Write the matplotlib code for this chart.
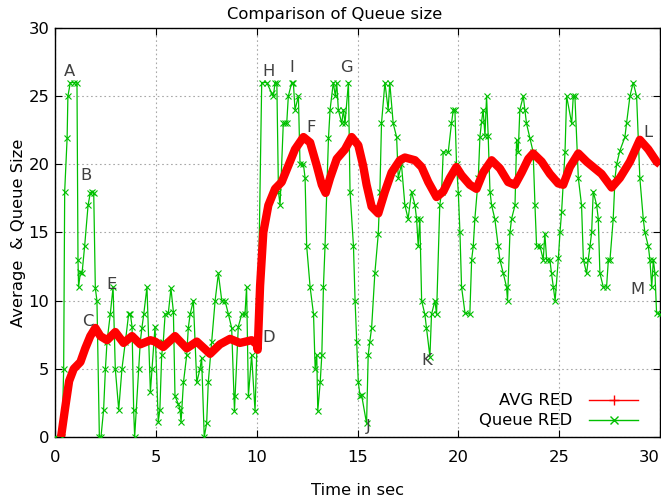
import matplotlib
matplotlib.use("Agg")
import matplotlib.pyplot as plt
from matplotlib.lines import Line2D

# ---- data ----
avg_t = [0.3, 0.5, 0.7, 0.93, 1.26, 1.5, 1.75, 2.0, 2.25, 2.58, 2.99, 3.4, 3.82,
         4.23, 4.73, 4.96, 5.37, 5.95, 6.53, 7.03, 7.69, 8.18, 8.68, 9.17, 9.75, 10.0,
         10.05, 10.17, 10.33, 10.58, 10.91, 11.24, 11.57, 11.9, 12.32, 12.65, 12.98,
         13.23, 13.42, 13.64, 13.97, 14.38, 14.71, 15.04, 15.28, 15.45, 15.7, 16.03,
         16.36, 16.69, 17.1, 17.35, 17.85, 18.18, 18.51, 18.92, 19.25, 19.58, 19.9,
         20.16, 20.57, 20.9, 21.23, 21.65, 22.06, 22.47, 22.81, 23.14, 23.47, 23.71,
         24.13, 24.54, 24.95, 25.2, 25.53, 25.95, 26.36, 26.77, 27.1, 27.6, 28.01,
         28.51, 29.0, 29.42, 29.83, 30.0]
avg_q = [0.0, 2.1, 4.1, 5.0, 5.5, 6.5, 7.4, 8.0, 7.4, 7.1, 7.7, 6.9, 7.4,
         6.8, 7.1, 7.0, 6.6, 7.4, 6.5, 7.0, 6.1, 6.8, 7.2, 6.9, 7.1, 6.8,
         6.4, 11.1, 15.0, 17.0, 18.2, 18.7, 19.9, 21.1, 22.0, 21.6, 19.9,
         18.5, 17.9, 19.0, 20.4, 21.1, 22.0, 21.4, 19.9, 18.5, 16.9, 16.4,
         18.0, 19.4, 20.3, 20.5, 20.3, 19.8, 18.7, 17.6, 18.0, 19.0, 19.8,
         19.2, 18.5, 18.2, 19.4, 20.3, 19.7, 18.7, 18.5, 19.4, 20.4, 20.8,
         20.2, 19.3, 18.6, 18.5, 19.8, 20.8, 20.2, 19.7, 19.3, 18.3, 19.0,
         20.2, 21.8, 21.1, 20.2, 20.0]

queue_t = [0.0, 0.35, 0.43, 0.48, 0.6, 0.64, 0.76, 0.93, 1.09, 1.14, 1.17, 1.26, 1.34,
           1.47, 1.64, 1.75, 1.83, 1.92, 2.0, 2.08, 2.2, 2.28, 2.41, 2.5, 2.58, 2.74,
           2.88, 2.99, 3.16, 3.32, 3.49, 3.65, 3.74, 3.82, 3.9, 3.95, 4.15, 4.23, 4.31,
           4.4, 4.56, 4.73, 4.81, 4.96, 5.12, 5.2, 5.29, 5.37, 5.46, 5.62, 5.75, 5.87,
           5.95, 6.12, 6.2, 6.25, 6.37, 6.53, 6.61, 6.7, 6.86, 7.03, 7.19, 7.27, 7.4,
           7.52, 7.6, 7.77, 7.94, 8.1, 8.27, 8.43, 8.6, 8.76, 8.9, 8.93, 9.09, 9.26,
           9.42, 9.5, 9.59, 9.75, 9.92, 10.08, 10.25, 10.5, 10.75, 10.83, 10.91, 11.0,
           11.08, 11.16, 11.32, 11.4, 11.49, 11.57, 11.74, 11.82, 11.9, 12.07, 12.15,
           12.32, 12.4, 12.48, 12.65, 12.82, 12.9, 12.98, 13.03, 13.15, 13.23, 13.31,
           13.39, 13.56, 13.64, 13.8, 13.9, 13.97, 14.05, 14.22, 14.3, 14.38, 14.55,
           14.63, 14.8, 14.88, 14.96, 15.04, 15.13, 15.2, 15.45, 15.53, 15.61, 15.7,
           15.86, 16.03, 16.11, 16.19, 16.36, 16.52, 16.6, 16.77, 16.94, 17.02, 17.18,
           17.35, 17.51, 17.68, 17.85, 17.93, 18.01, 18.09, 18.18, 18.34, 18.42, 18.59,
           18.67, 18.84, 18.92, 19.08, 19.17, 19.25, 19.5, 19.66, 19.75, 19.83, 19.91,
           20.0, 20.08, 20.16, 20.33, 20.57, 20.66, 20.74, 20.82, 20.99, 21.07, 21.15,
           21.23, 21.32, 21.4, 21.48, 21.57, 21.65, 21.81, 21.98, 22.06, 22.23, 22.39,
           22.44, 22.56, 22.64, 22.81, 22.89, 22.97, 23.05, 23.22, 23.3, 23.38, 23.55,
           23.71, 23.8, 23.88, 24.05, 24.21, 24.29, 24.38, 24.54, 24.62, 24.71, 24.8,
           24.96, 25.04, 25.12, 25.29, 25.37, 25.62, 25.7, 25.78, 25.95, 26.11, 26.2,
           26.36, 26.44, 26.53, 26.61, 26.69, 26.86, 26.94, 27.02, 27.19, 27.35, 27.44,
           27.52, 27.68, 27.77, 27.85, 28.01, 28.26, 28.34, 28.51, 28.67, 28.84, 29.0,
           29.17, 29.25, 29.42, 29.5, 29.59, 29.67, 29.75, 29.83, 30.0]
queue_q = [0, 0, 5, 18, 21.9, 25, 26, 26, 26, 13, 11, 12.1, 12,
           14, 17, 17.9, 18, 17.9, 10.9, 10, 0, 0, 2, 5, 7, 9,
           11, 5, 2, 5, 7, 9, 9, 8.1, 2, 0, 5, 7, 8,
           9, 11, 3.3, 5, 8.1, 1.1, 2, 6, 7, 9, 9.1, 10.9, 9.2,
           3, 2.4, 2, 1.1, 4, 6, 8, 9, 10, 4, 5, 5.8, 0,
           1, 4, 7, 10, 12, 10, 10, 9, 8, 1.9, 3, 8.1, 9,
           9, 11, 3, 6, 1.9, 10, 26, 26, 25.2, 25, 26, 26,
           18, 17, 23, 23, 23, 25, 26, 26, 24, 25, 20,
           20, 19, 14, 11, 9, 5, 6, 1.9, 4, 6, 11,
           14, 21.9, 24, 26, 25, 26, 24, 23, 24, 23, 26,
           18, 14, 10, 7, 4, 3, 3.1, 1, 6, 7, 8,
           12, 14.9, 18, 23, 26, 24, 26, 23, 22, 19, 20,
           17, 16, 18, 17, 16, 14, 16, 10, 9, 8, 5.9,
           9, 10, 9, 17, 18, 20.9, 20.9, 23, 24, 24, 20,
           17.9, 15, 11, 9.1, 9, 13, 14, 16, 19, 22, 23.1,
           24, 22.1, 25, 22.1, 18, 17, 16, 14, 13, 12, 11,
           10, 15, 16, 17, 21.8, 20.9, 24, 25, 24, 23, 21.9,
           20.9, 17, 14, 14, 13, 14.9, 13, 13, 12, 11, 10,
           13.1, 15, 16.5, 20.9, 25, 23, 25, 25, 19, 17, 13,
           12, 13, 14, 15, 18, 17, 16, 12, 11, 11, 13,
           13, 16, 19, 20, 21, 22, 23, 25, 26, 25, 19,
           16, 15, 14, 13, 11, 13, 12, 9.1, 9]

label_text = ["A", "B", "C", "E", "D", "H", "I", "F", "G", "J", "K", "L", "M"]
label_x = [0.74, 1.54, 1.64, 2.78, 10.6, 10.6, 11.75, 12.7, 14.43, 15.52, 18.44, 29.4, 28.9]
label_y = [26.8, 19.2, 8.45, 11.2, 7.3, 26.8, 27.1, 22.7, 27.1, 0.75, 5.6, 22.3, 10.85]

x_ticks = [0, 5, 10, 15, 20, 25, 30]
y_ticks = [0, 5, 10, 15, 20, 25, 30]

# ---- figure ----
plt.rcParams['font.family'] = ['DejaVu Sans']
fig = plt.figure(figsize=(6.61, 5.01), dpi=100)
ax = fig.add_axes([55/661, (501-437)/501, (660-55)/661, (437-28)/501])

red = '#ff0000'
green = '#00c000'
fs = 11.8

ax.plot(queue_t, queue_q, color=green, lw=0.9, marker='x', ms=5, mew=0.8,
        zorder=3)
ax.plot(avg_t, avg_q, color=red, lw=6.0, solid_capstyle='butt',
        solid_joinstyle='round', zorder=4)

for s, x, y in zip(label_text, label_x, label_y):
    ax.text(x, y, s, ha='center', va='center', fontsize=fs, color='#404040',
            zorder=5)

ax.set_xlim(0, 30)
ax.set_ylim(0, 30)
ax.set_xticks(x_ticks)
ax.set_yticks(y_ticks)
ax.grid(True, color='#a8a8a8', linestyle=(0, (1.5, 2.5)), lw=0.8)
ax.tick_params(direction='in', top=True, right=True, length=5, width=0.8,
               labelsize=fs, color='black')
ax.tick_params(axis='x', pad=9)
ax.tick_params(axis='y', pad=4)
xtl = ax.get_xticklabels()
xtl[-1].set_horizontalalignment('right')
for sp in ax.spines.values():
    sp.set_linewidth(1.0)
    sp.set_color('black')

fig.text(335/661, 1 - 15/501, 'Comparison of Queue size', fontsize=fs,
         ha='center', va='center')
ax.set_xlabel('Time in sec', fontsize=fs, labelpad=13.5)
ax.set_ylabel('Average  & Queue Size', fontsize=fs, labelpad=2)

handles = [Line2D([], [], color=red, lw=1, marker='+', ms=7, mew=1),
           Line2D([], [], color=green, lw=1, marker='x', ms=6, mew=1)]
ax.legend(handles, ['AVG RED', 'Queue RED'], loc='lower right', frameon=False,
          markerfirst=False, fontsize=fs, handlelength=3.0, handletextpad=1.0,
          labelspacing=0.3, bbox_to_anchor=(0.983, -0.007), borderaxespad=0.3)

fig.savefig('out.png', dpi=100)
